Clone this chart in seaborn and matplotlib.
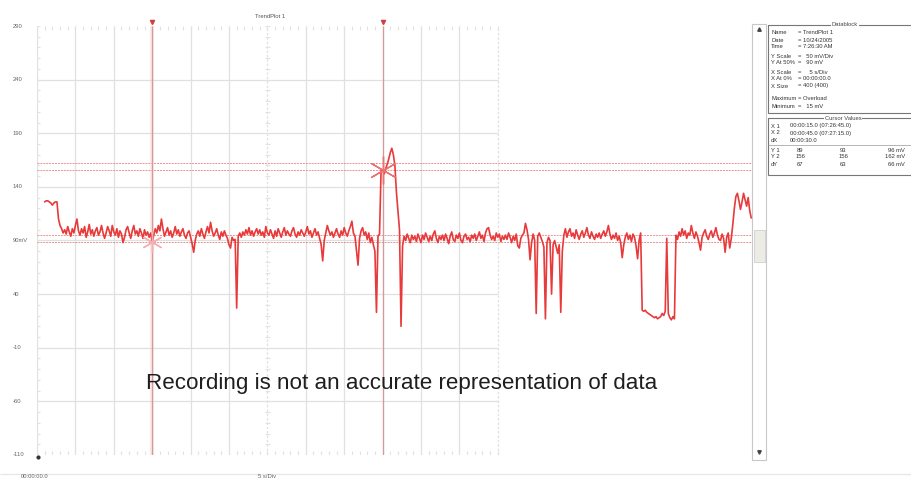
import numpy as np
import matplotlib
matplotlib.use("Agg")
import matplotlib.pyplot as plt
import seaborn as sns
from matplotlib.patches import Rectangle

# ---------------- data ----------------
sample_start_s = 1.0
sample_step_s = 0.2
trace_mv = [
    126, 127, 127, 126, 125, 123, 125, 126, 126, 110, 104, 101, 97, 100, 96, 103, 98, 94, 101, 97,
    104, 110, 99, 95, 101, 97, 103, 93, 98, 105, 96, 100, 94, 99, 102, 95, 98, 104, 97, 92,
    97, 103, 99, 94, 104, 98, 95, 101, 93, 99, 96, 88, 93, 100, 103, 97, 92, 99, 104, 96,
    99, 94, 101, 97, 92, 100, 95, 98, 93, 97, 89, 95, 101, 97, 104, 99, 110, 101, 94, 98,
    102, 95, 99, 93, 97, 103, 96, 100, 94, 98, 101, 95, 92, 97, 99, 93, 87, 79, 90, 96,
    99, 94, 101, 96, 92, 98, 103, 97, 107, 99, 94, 97, 101, 95, 91, 98, 94, 99, 95, 92,
    86, 83, 93, 90, 91, 27, 94, 97, 93, 98, 95, 100, 96, 102, 95, 99, 94, 98, 101, 96,
    100, 95, 98, 93, 103, 97, 95, 100, 96, 92, 99, 94, 101, 97, 93, 98, 102, 95, 99, 96,
    94, 99, 102, 96, 93, 98, 95, 100, 97, 94, 98, 103, 96, 99, 93, 97, 101, 95, 98, 92,
    86, 71, 90, 97, 104, 99, 95, 98, 93, 97, 101, 96, 93, 99, 95, 102, 97, 94, 99, 103,
    108, 97, 94, 80, 67, 92, 99, 102, 95, 98, 91, 97, 88, 93, 86, 80, 23, 94, 96, 155,
    156, 152, 157, 161, 166, 172, 176, 170, 160, 135, 118, 100, 10, 85, 94, 90, 96, 92, 88, 95,
    91, 94, 89, 96, 92, 88, 95, 91, 97, 93, 89, 94, 90, 96, 99, 92, 88, 94, 91, 95,
    90, 96, 92, 87, 94, 98, 91, 89, 95, 92, 97, 90, 88, 94, 96, 91, 93, 89, 95, 92,
    96, 90, 94, 98, 92, 95, 89, 97, 101, 102, 95, 91, 94, 90, 97, 93, 96, 89, 94, 91,
    95, 91, 97, 93, 88, 94, 90, 96, 85, 83, 92, 95, 97, 106, 100, 91, 72, 88, 96, 90,
    22, 94, 97, 93, 89, 84, 17, 88, 93, 90, 40, 86, 90, 84, 78, 86, 23, 80, 95, 101,
    93, 98, 101, 94, 97, 92, 100, 95, 91, 96, 99, 93, 97, 102, 95, 92, 98, 94, 91, 96,
    93, 97, 92, 96, 99, 94, 98, 104, 96, 91, 95, 92, 97, 90, 94, 88, 74, 86, 93, 97,
    91, 95, 89, 96, 93, 85, 73, 90, 97, 25, 24, 25, 23, 22, 21, 20, 19, 18, 19, 17,
    18, 19, 22, 20, 24, 92, 22, 18, 16, 19, 17, 95, 91, 98, 94, 101, 95, 99, 92, 97,
    95, 104, 97, 92, 98, 94, 88, 81, 93, 97, 100, 94, 91, 96, 99, 93, 97, 102, 95, 91,
    90, 96, 92, 79, 93, 97, 83, 92, 105, 120, 131, 134, 127, 119, 126, 134, 128, 122, 130, 118,
    111,
]
time_s = sample_start_s + sample_step_s * np.arange(len(trace_mv))

y_ticks = [290, 240, 190, 140, 90, 40, -10, -60, -110]
y_tick_labels = ["290", "240", "190", "140", "90mV", "40", "-10", "-60", "-110"]
grid_seconds = [5, 10, 15, 20, 25, 30, 35, 40, 45, 50, 55, 60]
cursor_x = [15.0, 45.0]
cursor_y = [89, 156]
cursor_line_levels = [89, 95, 156, 162]

datablock_labels = ["Name", "Date", "Time", "Y Scale", "Y At 50%", "X Scale",
                    "X At 0%", "X Size", "Maximum", "Minimum"]
datablock_values = ["= TrendPlot 1", "= 10/24/2005", "= 7:26:30 AM", "=   50 mV/Div",
                    "=   90 mV", "=     5 s/Div", "= 00:00:00.0", "= 400 (400)",
                    "= Overload", "=   15 mV"]
cursor_rows = ["X 1", "X 2", "dX"]
cursor_times = ["00:00:15.0 (07:26:45.0)", "00:00:45.0 (07:27:15.0)", "00:00:30.0"]
cursor_val_rows = ["Y 1", "Y 2", "dY"]
cursor_val_a = ["89", "156", "67"]
cursor_val_b = ["93", "156", "63"]
cursor_val_c = ["96 mV", "162 mV", "66 mV"]

# ---------------- figure ----------------
sns.set_style("white")
plt.rcParams["font.family"] = ["Liberation Sans", "DejaVu Sans"]

W, H = 911, 482
fig = plt.figure(figsize=(W / 100, H / 100), dpi=100)
fig.patch.set_facecolor("white")

L, R, T, B = 37, 752, 26, 455
PX_PER_S = 7.68
ax = fig.add_axes([L / W, 1 - B / H, (R - L) / W, (B - T) / H])
t_max = (R - L) / PX_PER_S
ax.set_xlim(0, t_max)
ax.set_ylim(-110, 290)
for s in ax.spines.values():
    s.set_visible(False)
ax.set_xticks([])
ax.set_yticks([])

grid_c = "#e0e0e0"
tick_c = "#e2e2e2"
# vertical grid lines (grid only covers first 60 s)
for g in grid_seconds:
    ls = (0, (2, 1.5)) if g in (30, 60) else "-"
    ax.vlines(g, -110, 290, color=grid_c, lw=0.9, linestyle=ls, zorder=1)
ax.vlines(0, -110, 290, color=grid_c, lw=0.9, zorder=1)
for y in y_ticks[1:-1]:
    ax.hlines(y, 0, 60, color=grid_c, lw=0.9, zorder=1)
# minor ticks on edges and centre line
for s_ in np.arange(0, 60.1, 1.0):
    ax.vlines(s_, 290 - 3.5, 290, color=tick_c, lw=0.8, zorder=1)
    ax.vlines(s_, -110, -110 + 3.5, color=tick_c, lw=0.8, zorder=1)
for y in np.arange(-110, 291, 10):
    ax.hlines(y, 0, 0.45, color=tick_c, lw=0.8, zorder=1)
    ax.hlines(y, 30 - 0.3, 30 + 0.3, color=tick_c, lw=0.8, zorder=1)

# cursor horizontal lines
for lv in cursor_line_levels:
    ax.hlines(lv, 0, t_max, color="#e07070", lw=0.7, linestyle=(0, (2, 1)), alpha=0.75, zorder=2)
# cursor vertical lines
ax.vlines(cursor_x[0], -110, 290, color="#f4c4c4", lw=3.0, alpha=0.35, zorder=2)
for cx in cursor_x:
    ax.vlines(cx, -110, 290, color="#d49a9a", lw=0.9, zorder=2)

# trace
sns.lineplot(x=time_s, y=trace_mv, ax=ax, color="#e83a3a", linewidth=1.2,
             sort=False, estimator=None, zorder=3)

# cursor markers
ax.plot(cursor_x[0], cursor_y[0], marker=(6, 2, 0), ms=15, color="#f4b0b0", mew=1.0, zorder=4)
ax.plot(cursor_x[1], cursor_y[1], marker=(6, 2, 0), ms=20, color="#ee7070", mew=1.0, zorder=4)

# ---------------- overlay (pixel coords) ----------------
ov = fig.add_axes([0, 0, 1, 1], facecolor="none")
ov.set_xlim(0, W)
ov.set_ylim(H, 0)
ov.axis("off")

lab_c = "#666666"
small = 4.2
for y, lab in zip(y_ticks, y_tick_labels):
    py = T + (290 - y) * (B - T) / 400
    ov.text(13, py, lab, fontsize=small, color=lab_c, ha="left", va="center")
ov.text(21, 476, "00:00:00.0", fontsize=small, color=lab_c, ha="left", va="center")
ov.text(267, 476, "5 s/Div", fontsize=small, color=lab_c, ha="center", va="center")
ov.text(270, 16, "TrendPlot 1", fontsize=small, color="#555555", ha="center", va="center")

# cursor top pointers and start marker
for cx in cursor_x:
    px = L + cx * PX_PER_S
    ov.plot(px, 22, marker="v", ms=3, color="#d04040")
ov.plot(38, 457, marker="o", ms=2, color="#333333")

# scrollbar
ov.add_patch(Rectangle((752, 24), 14, 436, fill=False, ec="#c8c8c8", lw=0.8))
ov.add_patch(Rectangle((754, 230), 11, 32, fc="#ecece4", ec="#cfcfcf", lw=0.6))
ov.plot(759, 29, marker="^", ms=2.5, color="#444444")
ov.plot(759, 452, marker="v", ms=2.5, color="#444444")
ov.hlines(474, 0, W, color="#e8e8e8", lw=1.0)

# datablock
ov.add_patch(Rectangle((768, 25), 150, 88, fill=False, ec="#777777", lw=0.8))
ov.add_patch(Rectangle((768, 118), 150, 57, fill=False, ec="#777777", lw=0.8))
ov.text(845, 25, "Datablock", fontsize=small, color="#444444", ha="center", va="center",
        bbox=dict(fc="white", ec="none", pad=0.5))
ov.text(843, 118, "Cursor Values", fontsize=small, color="#444444", ha="center", va="center",
        bbox=dict(fc="white", ec="none", pad=0.5))
db_y = [33, 40, 47, 56, 63, 72, 78, 86, 99, 107]
for y, a, b in zip(db_y, datablock_labels, datablock_values):
    ov.text(771, y, a, fontsize=small, color="#333333", ha="left", va="center")
    ov.text(798, y, b, fontsize=small, color="#333333", ha="left", va="center")
for y, a, b in zip([126, 133, 140], cursor_rows, cursor_times):
    ov.text(771, y, a, fontsize=small, color="#333333", ha="left", va="center")
    ov.text(790, y, b, fontsize=small, color="#333333", ha="left", va="center")
ov.hlines(145, 768, 911, color="#999999", lw=0.5)
for y, a, v1, v2, v3 in zip([151, 157, 164], cursor_val_rows, cursor_val_a, cursor_val_b, cursor_val_c):
    ov.text(771, y, a, fontsize=small, color="#333333", ha="left", va="center")
    ov.text(800, y, v1, fontsize=small, color="#333333", ha="center", va="center")
    ov.text(843, y, v2, fontsize=small, color="#333333", ha="center", va="center")
    ov.text(905, y, v3, fontsize=small, color="#333333", ha="right", va="center")

# note over the chart
ov.text(146, 383, "Recording is not an accurate representation of data", fontsize=16.1,
        color="#1e1e1e", ha="left", va="center")

fig.savefig("out.png", dpi=100, facecolor="white")
